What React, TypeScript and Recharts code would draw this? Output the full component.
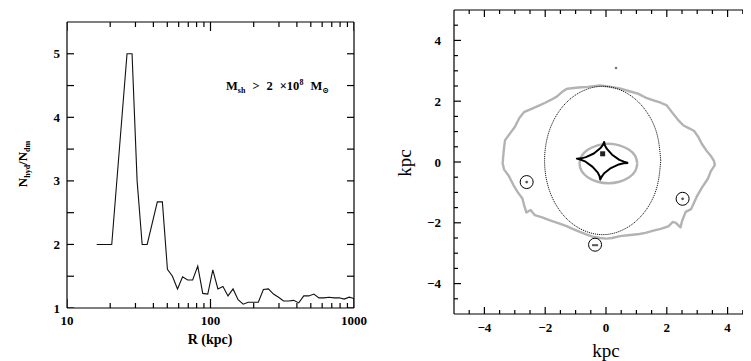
import React from 'react';
import { ComposedChart, Line, Scatter, XAxis, YAxis } from 'recharts';

// left panel: hydro / dark-matter subhalo number ratio vs radius
const R_KPC = [16.1, 20.5, 26.2, 28.4, 30.8, 33.4, 36.2, 42.6, 46.2, 50.1, 54.3, 58.9, 63.9, 69.3, 75.1, 81.5, 88.3, 95.7, 103.8, 112.6, 122.1, 132.4, 143.6, 155.7, 168.9, 183.2, 198.6, 215.4, 233.6, 253.3, 274.7, 297.9, 323.0, 350.3, 379.9, 411.9, 446.7, 484.4, 525.3, 569.6, 617.7, 669.8, 726.4, 787.7, 854.2, 926.3, 1000];
const RATIO = [2.0, 2.0, 5.0, 5.0, 3.0, 2.0, 2.0, 2.67, 2.67, 1.61, 1.5, 1.3, 1.49, 1.44, 1.44, 1.66, 1.23, 1.22, 1.6, 1.3, 1.34, 1.19, 1.3, 1.13, 1.06, 1.09, 1.09, 1.09, 1.29, 1.3, 1.22, 1.17, 1.11, 1.11, 1.12, 1.08, 1.19, 1.19, 1.22, 1.16, 1.16, 1.17, 1.16, 1.16, 1.14, 1.17, 1.15];

const R_TICKS = [10, 20, 30, 40, 50, 60, 70, 80, 90, 100, 200, 300, 400, 500, 600, 700, 800, 900, 1000];
const R_MAJOR = [10, 100, 1000];
const RATIO_TICKS = [1, 1.5, 2, 2.5, 3, 3.5, 4, 4.5, 5];
const RATIO_LABELS = [1, 2, 3, 4, 5];

// right panel: lens plane (kpc)
const OUTER_CONTOUR: [number, number][] = [
  [-1.2, 2.42], [-0.9, 2.45], [-0.6, 2.47], [-0.2, 2.52], [0.1, 2.48], [0.45, 2.42], [0.8, 2.32], [1.05, 2.25],
  [1.3, 2.12], [1.56, 2.03], [1.8, 1.95], [2.0, 1.86], [2.2, 1.6], [2.4, 1.35], [2.55, 1.2], [2.75, 1.1],
  [2.9, 1.02], [3.05, 0.8], [3.15, 0.6], [3.3, 0.38], [3.45, 0.2], [3.55, 0.04], [3.58, -0.1], [3.45, -0.3],
  [3.35, -0.55], [3.15, -0.85], [2.98, -1.15], [2.8, -1.55], [2.62, -1.64], [2.5, -1.95], [2.45, -2.15],
  [2.3, -2.0], [2.2, -1.97], [2.05, -2.12], [1.8, -2.2], [1.56, -2.26], [1.3, -2.33], [1.1, -2.37], [0.8, -2.4],
  [0.46, -2.44], [0.2, -2.5], [0.02, -2.52], [-0.2, -2.5], [-0.42, -2.46], [-0.65, -2.38], [-0.86, -2.3],
  [-1.1, -2.2], [-1.3, -2.11], [-1.55, -2.02], [-1.84, -1.92], [-2.1, -1.82], [-2.34, -1.75], [-2.48, -1.58],
  [-2.62, -1.66], [-2.7, -1.4], [-2.75, -1.2], [-2.9, -1.0], [-3.05, -0.75], [-3.2, -0.45], [-3.35, -0.25],
  [-3.4, -0.05], [-3.38, 0.2], [-3.35, 0.5], [-3.32, 0.72], [-3.15, 0.95], [-3.0, 1.15], [-2.85, 1.45],
  [-2.7, 1.64], [-2.45, 1.75], [-2.28, 1.82], [-2.0, 1.95], [-1.8, 2.05], [-1.62, 2.15], [-1.45, 2.3],
  [-1.3, 2.4], [-1.2, 2.42],
];
const INNER_RING: [number, number][] = [
  [1.03, -0.05], [0.96, 0.2], [0.75, 0.41], [0.44, 0.55], [0.08, 0.6], [-0.28, 0.55], [-0.59, 0.41], [-0.8, 0.2],
  [-0.87, -0.05], [-0.8, -0.3], [-0.59, -0.51], [-0.28, -0.65], [0.08, -0.7], [0.44, -0.65], [0.75, -0.51],
  [0.96, -0.3], [1.03, -0.05],
];
const CRITICAL_CURVE: [number, number][] = [
  [1.8, 0.05], [1.66, 0.98], [1.24, 1.78], [0.62, 2.3], [-0.11, 2.49], [-0.84, 2.3], [-1.46, 1.78], [-1.88, 0.98],
  [-2.02, 0.05], [-1.88, -0.88], [-1.46, -1.68], [-0.84, -2.2], [-0.11, -2.39], [0.62, -2.2], [1.24, -1.68],
  [1.66, -0.88], [1.8, 0.05],
];
const CAUSTIC: [number, number][] = [
  [0.73, -0.03], [0.59, 0.01], [0.44, 0.07], [0.2, 0.24], [0.03, 0.43], [-0.04, 0.55], [-0.06, 0.66],
  [-0.1, 0.56], [-0.19, 0.45], [-0.4, 0.28], [-0.66, 0.16], [-0.81, 0.12], [-0.96, 0.11],
  [-0.82, 0.07], [-0.67, 0.01], [-0.44, -0.16], [-0.27, -0.35], [-0.21, -0.47], [-0.19, -0.58],
  [-0.14, -0.48], [-0.06, -0.37], [0.16, -0.2], [0.42, -0.08], [0.58, -0.04], [0.73, -0.03],
];
const CIRCLED_IMAGES: [number, number][] = [[-2.61, -0.66], [2.52, -1.21]];
const DASH_IMAGE: [number, number][] = [[-0.36, -2.72]];
const FAINT_IMAGE: [number, number][] = [[0.33, 3.09]];
const SOURCE: [number, number][] = [[-0.11, 0.27]];

const KPC_TICKS = [-4.5, -4, -3.5, -3, -2.5, -2, -1.5, -1, -0.5, 0, 0.5, 1, 1.5, 2, 2.5, 3, 3.5, 4, 4.5];
const KPC_LABELS = [-4, -2, 0, 2, 4];

const SERIF = '"Liberation Serif", "DejaVu Serif", serif';
const GREY = '#b3b3b3';

const pts = (arr: [number, number][]) => arr.map(([x, y]) => ({ x, y }));
const ratioData = R_KPC.map((r, i) => ({ r, ratio: RATIO[i] }));

// tick marks along the frame, placed through the chart scales
const rBottom = R_TICKS.map((r) => ({ r, ratio: 1, v: r }));
const rTop = R_TICKS.map((r) => ({ r, ratio: 5.5, v: r }));
const ratioLeft = RATIO_TICKS.map((q) => ({ r: 10, ratio: q, v: q }));
const ratioRight = RATIO_TICKS.map((q) => ({ r: 1000, ratio: q, v: q }));
const kBottom = KPC_TICKS.map((k) => ({ x: k, y: -5, v: k }));
const kTop = KPC_TICKS.map((k) => ({ x: k, y: 5, v: k }));
const kLeft = KPC_TICKS.map((k) => ({ x: -5, y: k, v: k }));
const kRight = KPC_TICKS.map((k) => ({ x: 5, y: k, v: k }));

function TickMark(props: any) {
  const { cx, cy, payload, dir, majors, long, short } = props;
  const v = payload ? payload.v : undefined;
  const len = majors && majors.includes(v) ? long : short;
  const dx = dir === 'right' ? 1 : dir === 'left' ? -1 : 0;
  const dy = dir === 'down' ? 1 : dir === 'up' ? -1 : 0;
  return <path d={`M${cx},${cy}l${dx * len},${dy * len}`} stroke="#000" strokeWidth={1.2} fill="none" />;
}

const labelFont = { fontFamily: SERIF, fontSize: 13, fontWeight: 'bold' as const, fill: '#000' };
const fmt = (v: number) => (v < 0 ? `\u2212${Math.abs(v)}` : `${v}`);

function TickLabel(props: any) {
  const { x, y, payload, side, labels, gap } = props;
  const v = payload.value;
  if (!labels.includes(v)) return <g />;
  if (side === 'bottom') return <text x={x} y={y + gap} textAnchor="middle" {...labelFont}>{fmt(v)}</text>;
  return <text x={x - gap} y={y + 4.5} textAnchor="end" {...labelFont}>{fmt(v)}</text>;
}
const NoLabel = () => <g />;

const frame = { stroke: '#000', strokeWidth: 1.2 };

function CircledDot(props: any) {
  const { cx, cy } = props;
  return (
    <g>
      <circle cx={cx} cy={cy} r={6.5} fill="none" stroke="#000" strokeWidth={1} />
      <circle cx={cx} cy={cy} r={1.4} fill="#555" />
    </g>
  );
}
function CircledDash(props: any) {
  const { cx, cy } = props;
  return (
    <g>
      <circle cx={cx} cy={cy} r={6.5} fill="none" stroke="#000" strokeWidth={1} />
      <line x1={cx - 3} x2={cx + 3} y1={cy + 0.5} y2={cy + 0.5} stroke="#555" strokeWidth={2} />
    </g>
  );
}
function FaintDot(props: any) {
  return <circle cx={props.cx} cy={props.cy} r={1.3} fill="#777" />;
}
function SourceSquare(props: any) {
  return <rect x={props.cx - 2.5} y={props.cy - 2.5} width={5} height={5} fill="#222" />;
}

export default function App() {
  return (
    <div style={{ position: 'relative', width: 743, height: 353, overflow: 'hidden', background: '#fff' }}>
      <div style={{ position: 'absolute', left: -8, top: -8 }}>
        <ComposedChart width={370} height={361} data={ratioData} margin={{ top: 12, right: 6, bottom: 23, left: 27 }}>
          <XAxis xAxisId="b" dataKey="r" type="number" scale="log" domain={[10, 1000]} allowDataOverflow
            ticks={R_TICKS} interval={0} height={30} tickSize={0} tickMargin={0} tickLine={false} axisLine={frame}
            tick={<TickLabel side="bottom" labels={R_MAJOR} gap={17} />} />
          <XAxis xAxisId="t" orientation="top" dataKey="r" type="number" scale="log" domain={[10, 1000]} allowDataOverflow
            ticks={R_MAJOR} height={10} tickLine={false} axisLine={frame} tick={<NoLabel />} />
          <YAxis yAxisId="l" dataKey="ratio" type="number" domain={[1, 5.5]} allowDataOverflow ticks={RATIO_TICKS} interval={0}
            width={40} tickSize={0} tickMargin={0} tickLine={false} axisLine={frame}
            tick={<TickLabel side="left" labels={RATIO_LABELS} gap={7} />} />
          <YAxis yAxisId="r" orientation="right" type="number" domain={[1, 5.5]} allowDataOverflow ticks={RATIO_LABELS}
            width={10} tickLine={false} axisLine={frame} tick={<NoLabel />} />
          <Scatter xAxisId="b" yAxisId="l" data={rBottom} dataKey="ratio" isAnimationActive={false}
            shape={<TickMark dir="up" majors={R_MAJOR} long={9} short={5} />} />
          <Scatter xAxisId="b" yAxisId="l" data={rTop} dataKey="ratio" isAnimationActive={false}
            shape={<TickMark dir="down" majors={R_MAJOR} long={9} short={5} />} />
          <Scatter xAxisId="b" yAxisId="l" data={ratioLeft} dataKey="ratio" isAnimationActive={false}
            shape={<TickMark dir="right" majors={RATIO_LABELS} long={7} short={7} />} />
          <Scatter xAxisId="b" yAxisId="l" data={ratioRight} dataKey="ratio" isAnimationActive={false}
            shape={<TickMark dir="left" majors={RATIO_LABELS} long={7} short={7} />} />
          <Line xAxisId="b" yAxisId="l" type="linear" dataKey="ratio" stroke="#111" strokeWidth={1.1}
            dot={false} activeDot={false} isAnimationActive={false} />
        </ComposedChart>
      </div>

      <div style={{ position: 'absolute', left: 372, top: -8 }}>
        <ComposedChart width={400} height={361} margin={{ top: 5, right: 12, bottom: 17, left: 24 }}>
          <XAxis xAxisId="b" dataKey="x" type="number" domain={[-5, 5]} allowDataOverflow ticks={KPC_LABELS} interval={0}
            height={30} tickSize={0} tickMargin={0} tickLine={false} axisLine={frame}
            tick={<TickLabel side="bottom" labels={KPC_LABELS} gap={18} />} />
          <XAxis xAxisId="t" orientation="top" dataKey="x" type="number" domain={[-5, 5]} allowDataOverflow ticks={KPC_LABELS}
            height={5} tickLine={false} axisLine={frame} tick={<NoLabel />} />
          <YAxis yAxisId="l" dataKey="y" type="number" domain={[-5, 5]} allowDataOverflow ticks={KPC_LABELS} interval={0}
            width={50} tickSize={0} tickMargin={0} tickLine={false} axisLine={frame}
            tick={<TickLabel side="left" labels={KPC_LABELS} gap={13} />} />
          <YAxis yAxisId="r" orientation="right" dataKey="y" type="number" domain={[-5, 5]} allowDataOverflow ticks={KPC_LABELS}
            width={10} tickLine={false} axisLine={frame} tick={<NoLabel />} />
          <Scatter xAxisId="b" yAxisId="l" data={kBottom} dataKey="y" isAnimationActive={false}
            shape={<TickMark dir="up" majors={KPC_LABELS} long={7} short={4} />} />
          <Scatter xAxisId="b" yAxisId="l" data={kTop} dataKey="y" isAnimationActive={false}
            shape={<TickMark dir="down" majors={KPC_LABELS} long={7} short={4} />} />
          <Scatter xAxisId="b" yAxisId="l" data={kLeft} dataKey="y" isAnimationActive={false}
            shape={<TickMark dir="right" majors={KPC_LABELS} long={7} short={4} />} />
          <Scatter xAxisId="b" yAxisId="l" data={kRight} dataKey="y" isAnimationActive={false}
            shape={<TickMark dir="left" majors={KPC_LABELS} long={7} short={4} />} />
          <Line xAxisId="b" yAxisId="l" data={pts(OUTER_CONTOUR)} dataKey="y" type="linear" stroke={GREY} strokeWidth={2.4}
            strokeLinejoin="round" dot={false} activeDot={false} isAnimationActive={false} />
          <Line xAxisId="b" yAxisId="l" data={pts(INNER_RING)} dataKey="y" type="natural" stroke={GREY} strokeWidth={2.4}
            dot={false} activeDot={false} isAnimationActive={false} />
          <Line xAxisId="b" yAxisId="l" data={pts(CRITICAL_CURVE)} dataKey="y" type="natural" stroke="#000" strokeWidth={0.9}
            strokeDasharray="1.2 0.9" dot={false} activeDot={false} isAnimationActive={false} />
          <Line xAxisId="b" yAxisId="l" data={pts(CAUSTIC)} dataKey="y" type="linear" stroke="#000" strokeWidth={2}
            strokeLinejoin="round" dot={false} activeDot={false} isAnimationActive={false} />
          <Scatter xAxisId="b" yAxisId="l" data={pts(CIRCLED_IMAGES)} dataKey="y" shape={<CircledDot />} isAnimationActive={false} />
          <Scatter xAxisId="b" yAxisId="l" data={pts(DASH_IMAGE)} dataKey="y" shape={<CircledDash />} isAnimationActive={false} />
          <Scatter xAxisId="b" yAxisId="l" data={pts(FAINT_IMAGE)} dataKey="y" shape={<FaintDot />} isAnimationActive={false} />
          <Scatter xAxisId="b" yAxisId="l" data={pts(SOURCE)} dataKey="y" shape={<SourceSquare />} isAnimationActive={false} />
        </ComposedChart>
      </div>

      <svg width={751} height={361} style={{ position: 'absolute', left: -8, top: -8, pointerEvents: 'none' }}>
        <g fontFamily={SERIF} fill="#000" fontWeight="bold">
          <text transform="translate(27,164) rotate(-90)" textAnchor="middle" fontSize={13}>
            N<tspan fontSize={8} dy={3}>hyd</tspan><tspan dy={-3}>/N</tspan><tspan fontSize={8} dy={3}>dm</tspan>
          </text>
          <text x={210} y={344} textAnchor="middle" fontSize={14}>R (kpc)</text>
          <text x={226} y={90} fontSize={12.5}>
            M<tspan fontSize={8} dy={3}>sh</tspan>
            <tspan dy={-3} dx={7}>&gt;</tspan>
            <tspan dx={7}>2</tspan>
            <tspan dx={7}>×10</tspan>
            <tspan fontSize={8} dy={-5}>8</tspan>
            <tspan dy={5} dx={7}>M</tspan>
            <tspan fontSize={8} dy={3}>⊙</tspan>
          </text>
        </g>
        <g fontFamily={SERIF} fill="#000">
          <text x={606} y={357} textAnchor="middle" fontSize={19}>kpc</text>
          <text transform="translate(411,163) rotate(-90)" textAnchor="middle" fontSize={19}>kpc</text>
        </g>
      </svg>
    </div>
  );
}
